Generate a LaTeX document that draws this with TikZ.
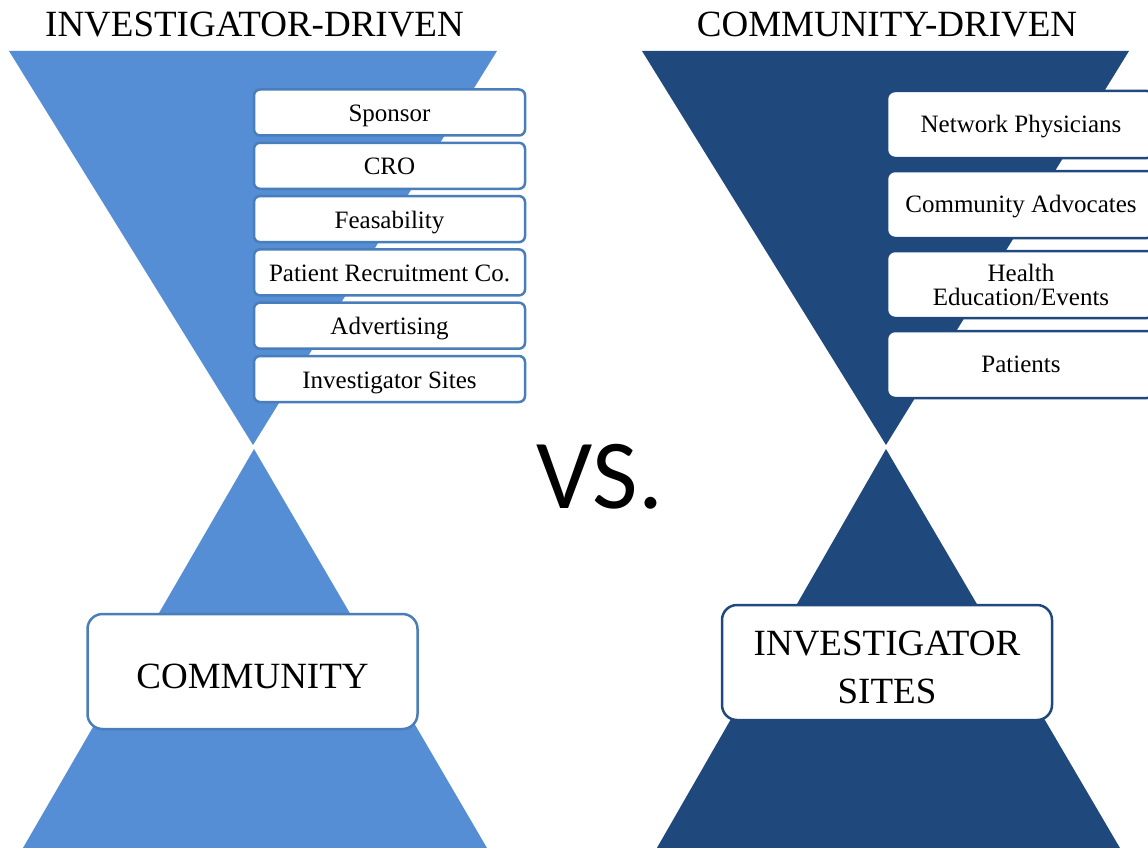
\documentclass[tikz,border=0pt]{standalone}
\usepackage{fontspec}
\setmainfont{Liberation Serif}
\newfontfamily\vsfont{Carlito}
\definecolor{lightblue}{HTML}{558ED5}
\definecolor{lightedge}{HTML}{4A7EBB}
\definecolor{darkblue}{HTML}{1F497D}
\newcommand{\lowerline}[1]{\raisebox{-5pt}[\height][\depth]{#1}}
\tikzset{
  lbox/.style={draw=lightedge, line width=2.5pt, fill=white, rounded corners=6pt,
    minimum width=271pt, minimum height=46pt, inner sep=0pt,
    text height=18pt, text depth=0pt,
    font=\fontsize{25}{24}\selectfont},
  rbox/.style={draw=darkblue, line width=2.5pt, fill=white, rounded corners=8pt,
    minimum width=268pt, minimum height=67pt, inner sep=0pt, align=center,
    font=\fontsize{25}{24}\selectfont},
  rcap/.style={text height=15.5pt, text depth=0pt},
  bigbox/.style={line width=2.5pt, fill=white, rounded corners=15pt,
    minimum width=330pt, minimum height=115pt, inner sep=0pt, align=center,
    font=\fontsize{37}{48}\selectfont},
  title/.style={anchor=base, inner sep=0pt, font=\fontsize{37}{40}\selectfont}
}
\begin{document}
\begin{tikzpicture}[x=1pt,y=-1pt]
\useasboundingbox (0,0) rectangle (1148,848);
\clip (0,0) rectangle (1148,848);
\fill[white] (0,0) rectangle (1148,848);
% triangles
\fill[lightblue] (9,51) -- (497,51) -- (253,445) -- cycle;
\fill[lightblue] (254,449) -- (16,860) -- (494,860) -- cycle;
\fill[darkblue] (642,51) -- (1129,51) -- (886,445) -- cycle;
\fill[darkblue] (886,449) -- (650,860) -- (1127,860) -- cycle;
% titles
\node[title] (t1) at (254.5,37) {INVESTIGATOR-DRIVEN};
\node[title] (t2) at (887,37) {COMMUNITY-DRIVEN};
% left boxes
\node[lbox] (s1) at (389.5,112.5) {Sponsor};
\node[lbox] (s2) at (389.5,165.8) {CRO};
\node[lbox] (s3) at (389.5,219.1) {Feasability};
\node[lbox] (s4) at (389.5,272.4) {Patient Recruitment Co.};
\node[lbox] (s5) at (389.5,325.7) {Advertising};
\node[lbox] (s6) at (389.5,379) {Investigator Sites};
% right boxes
\node[rbox, rcap] (c1) at (1021,124.5) {Network Physicians};
\node[rbox, rcap] (c2) at (1021,204.5) {Community Advocates};
\node[rbox] (c3) at (1021,284.5) {Health\\Education/Events};
\node[rbox, rcap] (c4) at (1021,364.5) {Patients};
% bottom boxes
\node[bigbox, draw=lightedge, text height=33pt, text depth=0pt] (b1) at (252.5,671.5) {COMMUNITY};
\node[bigbox, draw=darkblue] (b2) at (887,662.5) {\lowerline{INVESTIGATOR}\\\lowerline{SITES}};
% vs
\node[anchor=base, inner sep=0pt, font=\vsfont\fontsize{99}{100}\selectfont] (vs) at (600,508) {VS.};
\end{tikzpicture}
\end{document}
